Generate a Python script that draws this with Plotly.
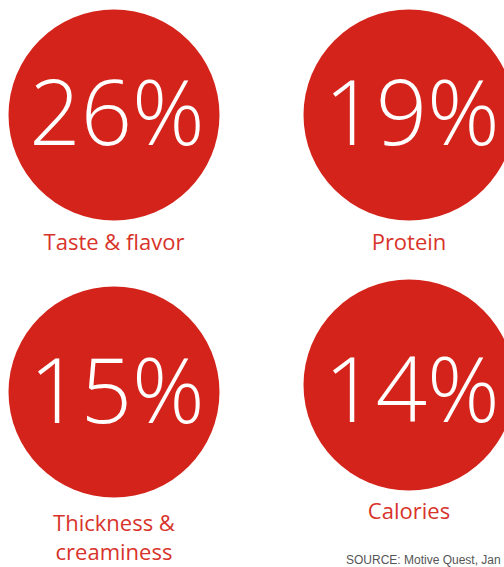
import plotly.graph_objects as go

categories = ["Taste & flavor", "Protein", "Thickness &<br>creaminess", "Calories"]
values = [26, 19, 15, 14]
source_text = "SOURCE: Motive Quest, Jan"

# layout positions (pixel-like coordinates on a 504x567 canvas)
circle_x = [114, 409, 114, 409]
circle_y = [115, 115, 392, 385]
text_y = [122, 122, 400, 399]
label_y = [244, 244, 540, 513]

RED = "#D4231A"
LABEL_RED = "#D8332A"

fig = go.Figure()
fig.add_trace(go.Scatter(
    x=circle_x, y=circle_y, mode="markers",
    marker=dict(size=211, color=RED, line=dict(width=0)),
    cliponaxis=False, hoverinfo="skip", showlegend=False))
fig.add_trace(go.Scatter(
    x=[cx + 3 for cx in circle_x], y=text_y, mode="text",
    text=[f"{v}%" for v in values], textposition="middle center",
    textfont=dict(family="Open Sans", size=90, color="white", weight=300),
    cliponaxis=False, hoverinfo="skip", showlegend=False))
fig.add_trace(go.Scatter(
    x=circle_x, y=label_y, mode="text",
    text=categories, textposition="middle center",
    textfont=dict(family="Open Sans", size=22, color=LABEL_RED),
    cliponaxis=False, hoverinfo="skip", showlegend=False))

fig.add_annotation(x=503, y=560, text=source_text, showarrow=False,
                   xanchor="right", yanchor="middle", xref="x", yref="y",
                   font=dict(family="Liberation Sans", size=12, color="#555555"))

fig.update_xaxes(range=[0, 504], visible=False, fixedrange=True)
fig.update_yaxes(range=[567, 0], visible=False, fixedrange=True)
fig.update_layout(width=504, height=567, margin=dict(l=0, r=0, t=0, b=0),
                  paper_bgcolor="white", plot_bgcolor="white")
fig.write_html("out.html")
